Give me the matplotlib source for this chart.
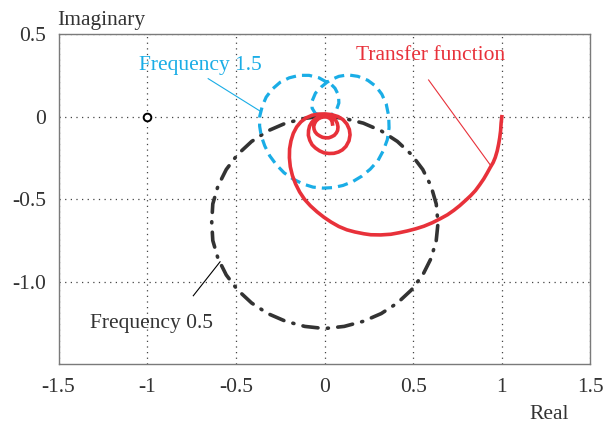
import matplotlib.pyplot as plt

plt.rcParams['font.family'] = ['Liberation Serif', 'DejaVu Serif']
plt.rcParams['font.size'] = 15.5

##############################################
# Frequency 0.5 locus (black, dash-dot)
##############################################
f05_re = [0.0, 0.111, 0.219, 0.320, 0.411, 0.490, 0.554, 0.601, 0.630, 0.640,
          0.630, 0.601, 0.554, 0.490, 0.411, 0.320, 0.219, 0.111, 0.0,
          -0.111, -0.219, -0.320, -0.411, -0.490, -0.554, -0.601, -0.630, -0.636,
          -0.630, -0.601, -0.554, -0.490, -0.411, -0.320, -0.219, -0.111, 0.0]
f05_im = [0.005, -0.010, -0.039, -0.086, -0.150, -0.229, -0.320, -0.421, -0.529, -0.645,
          -0.751, -0.859, -0.960, -1.051, -1.130, -1.194, -1.241, -1.272, -1.285,
          -1.272, -1.241, -1.194, -1.130, -1.051, -0.960, -0.859, -0.751, -0.640,
          -0.529, -0.421, -0.320, -0.229, -0.150, -0.086, -0.039, -0.010, 0.005]

##############################################
# Frequency 1.5 locus (blue, dashed)
##############################################
f15_re = [0.014, -0.031, -0.087, -0.143, -0.199, -0.250, -0.295, -0.329, -0.351, -0.365,
          -0.366, -0.357, -0.337, -0.309, -0.272, -0.228, -0.177, -0.121, -0.065, -0.008,
          0.048, 0.104, 0.160, 0.211, 0.258, 0.301, 0.331, 0.354, 0.364, 0.362,
          0.348, 0.323, 0.289, 0.244, 0.188, 0.132, 0.081, 0.042, 0.014,
          -0.020, -0.051, -0.070, -0.070, -0.053, -0.025, 0.008, 0.042, 0.067, 0.081,
          0.079, 0.059, 0.037, 0.014]
f15_im = [0.209, 0.236, 0.251, 0.251, 0.236, 0.209, 0.167, 0.119, 0.064, 0.004,
          -0.056, -0.116, -0.177, -0.237, -0.291, -0.340, -0.378, -0.408, -0.427, -0.433,
          -0.430, -0.417, -0.393, -0.360, -0.318, -0.267, -0.207, -0.140, -0.068, 0.004,
          0.077, 0.137, 0.185, 0.221, 0.245, 0.254, 0.245, 0.227, 0.209,
          0.179, 0.143, 0.095, 0.052, 0.022, 0.007, 0.004, 0.013, 0.040, 0.083,
          0.131, 0.173, 0.197, 0.209]

##############################################
# Transfer function (red, solid spiral)
##############################################
tf_re = [1.0, 0.996, 0.993, 0.988, 0.982, 0.974, 0.963, 0.951, 0.935, 0.917,
         0.898, 0.875, 0.851, 0.824, 0.795, 0.763, 0.729, 0.693, 0.654, 0.608,
         0.561, 0.514, 0.467, 0.420, 0.374, 0.317, 0.261, 0.222, 0.171, 0.126,
         0.081, 0.037, -0.003, -0.042, -0.079, -0.112, -0.140, -0.163, -0.181, -0.193,
         -0.198, -0.197, -0.189, -0.176, -0.157, -0.133, -0.104, -0.070, -0.034, 0.003,
         0.039, 0.076,
         0.104, 0.126, 0.140, 0.144, 0.138, 0.121, 0.101, 0.079, 0.053, 0.025,
         -0.003, -0.028, -0.051, -0.070, -0.083, -0.091, -0.090, -0.084, -0.072, -0.056,
         -0.037, -0.014, 0.008, 0.031, 0.049, 0.062, 0.072, 0.076, 0.074, 0.067,
         0.055, 0.039, 0.024, 0.007, -0.011, -0.028, -0.042, -0.053, -0.059, -0.061,
         -0.056, -0.048, -0.035, -0.020, -0.003, 0.014, 0.027, 0.037, 0.043, 0.045]
tf_im = [0.0, -0.038, -0.086, -0.128, -0.166, -0.207, -0.247, -0.278, -0.307, -0.342,
         -0.377, -0.413, -0.448, -0.479, -0.508, -0.539, -0.568, -0.595, -0.618, -0.643,
         -0.664, -0.680, -0.693, -0.704, -0.713, -0.717, -0.716, -0.710, -0.699, -0.686,
         -0.666, -0.639, -0.610, -0.577, -0.541, -0.502, -0.457, -0.408, -0.357, -0.303,
         -0.249, -0.195, -0.146, -0.101, -0.062, -0.031, -0.007, 0.009, 0.016, 0.017,
         0.013, 0.001,
         -0.017, -0.044, -0.077, -0.110, -0.146, -0.180, -0.201, -0.214, -0.222, -0.223,
         -0.219, -0.207, -0.190, -0.170, -0.143, -0.113, -0.083, -0.056, -0.034, -0.017,
         -0.004, 0.004, 0.005, 0.001, -0.008, -0.020, -0.040, -0.062, -0.083, -0.098,
         -0.113, -0.122, -0.128, -0.128, -0.125, -0.116, -0.106, -0.092, -0.076, -0.059,
         -0.041, -0.026, -0.013, -0.005, -0.001, -0.002, -0.008, -0.017, -0.030, -0.044]

# critical point
crit_re, crit_im = -1.0, 0.0

# labels: (text, x, y baseline) and leader lines (from, to)
lbl_f15 = ('Frequency 1.5', -1.045, 0.285)
lbl_tf = ('Transfer function', 0.177, 0.346)
lbl_f05 = ('Frequency 0.5', -1.32, -1.281)
lead_f15 = ((-0.656, 0.231), (-0.363, 0.034))
lead_tf = ((0.587, 0.223), (0.935, -0.293))
lead_f05 = ((-0.740, -1.086), (-0.589, -0.880))

xticks = [-1.5, -1, -0.5, 0, 0.5, 1, 1.5]
xticklabels = ['-1.5', '-1', '-0.5', '0', '0.5', '1', '1.5']
yticks = [0.5, 0, -0.5, -1.0]
yticklabels = ['0.5', '0', '-0.5', '-1.0']

blue = '#1aade6'
red = '#e8313a'
black = '#333333'

fig = plt.figure(figsize=(6.16, 4.23), dpi=100)
ax = fig.add_axes([0.095, 0.1395, 0.8636, 0.7794])

ax.plot(f05_re, f05_im, color=black, lw=2.6, linestyle=(0, (4.2, 2.6, 0.3, 2.6)),
        dash_capstyle='round', zorder=3)
ax.plot(f15_re, f15_im, color=blue, lw=2.3, linestyle=(0, (3.2, 1.9)), zorder=4)
ax.plot(tf_re, tf_im, color=red, lw=2.6, zorder=5, solid_joinstyle='round')
ax.plot([crit_re], [crit_im], 'o', mfc='white', mec='black', ms=5.5, mew=1.4, zorder=6)

for (p0, p1), c in [(lead_f15, blue), (lead_tf, red), (lead_f05, 'black')]:
    ax.plot([p0[0], p1[0]], [p0[1], p1[1]], color=c, lw=0.8, zorder=6)

ax.text(lbl_f15[1], lbl_f15[2], lbl_f15[0], color=blue, va='baseline', ha='left')
ax.text(lbl_tf[1], lbl_tf[2], lbl_tf[0], color=red, va='baseline', ha='left')
ax.text(lbl_f05[1], lbl_f05[2], lbl_f05[0], color=black, va='baseline', ha='left')

ax.set_xlim(-1.5, 1.5)
ax.set_ylim(-1.5, 0.5)
ax.set_xticks(xticks)
ax.set_xticklabels(xticklabels)
ax.set_yticks(yticks)
ax.set_yticklabels(yticklabels)
ax.tick_params(length=0, colors='#333333', labelsize=15.5)
ax.tick_params(axis='x', pad=10)
ax.tick_params(axis='y', pad=9)
ax.grid(True, color='#444444', lw=0.9, linestyle=(0, (1, 3.5)))
ax.set_axisbelow(True)
for s in ax.spines.values():
    s.set_color('#7a7a7a')
    s.set_linewidth(1.0)

fig.text(56.7 / 616, 1 - 25 / 423, 'Imaginary', color='#333333', va='baseline', ha='left', fontsize=15.5)
fig.text(529.6 / 616, 1 - 419 / 423, 'Real', color='#333333', va='baseline', ha='left', fontsize=15.5)

fig.savefig('out.png', dpi=100)
